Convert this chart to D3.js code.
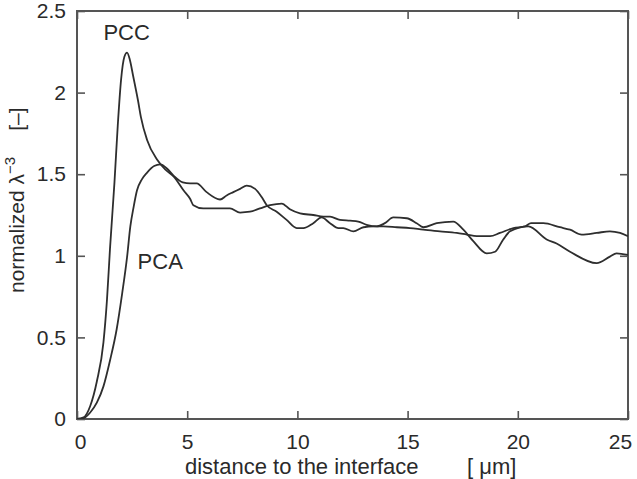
<!DOCTYPE html>
<html><head><meta charset="utf-8">
<script src="https://cdn.jsdelivr.net/npm/d3@7"></script>
<style>
html,body{margin:0;padding:0;background:#fff;}
text{font-family:"Liberation Sans",Arial,Helvetica,sans-serif;fill:#2a2a2a;}
</style></head>
<body><svg id="chart" width="637" height="479"></svg>
<script>
const xTicks = [0, 5, 10, 15, 20, 25];
const yTicks = [0, 0.5, 1, 1.5, 2, 2.5];
const yTickLabels = ["0", "0.5", "1", "1.5", "2", "2.5"];
const xLabel = "distance to the interface";
const xUnit = "[ μm]";

const pccX = [0,0.3,0.6,0.9,1.2,1.36,1.5,1.7,1.85,2.0,2.15,2.27,2.4,2.55,2.77,2.9,3.18,3.63,4.0,4.39,4.84,5.13,5.28,5.73,6.34,6.94,7.4,7.85,8.3,8.76,9.29,9.66,10.12,10.72,11.18,11.48,11.93,12.39,12.76,13.14,13.6,13.97,14.35,14.96,15.41,15.71,16.32,17.07,17.53,17.98,18.59,18.97,19.34,19.65,20.48,21.31,21.76,22.37,23.58,24.18,24.48,25];
const pccY = [0,0.01,0.08,0.23,0.47,0.73,1.05,1.45,1.8,2.08,2.22,2.245,2.2,2.1,1.95,1.85,1.71,1.59,1.53,1.485,1.40,1.35,1.31,1.29,1.29,1.29,1.265,1.27,1.29,1.31,1.32,1.285,1.26,1.25,1.24,1.24,1.22,1.215,1.21,1.19,1.18,1.2,1.235,1.23,1.2,1.175,1.2,1.21,1.16,1.09,1.015,1.025,1.10,1.15,1.18,1.10,1.075,1.025,0.955,0.995,1.015,1.005];

const pcaX = [0,0.3,0.6,0.9,1.2,1.5,1.8,2.05,2.27,2.42,2.57,2.72,2.95,3.18,3.5,3.78,4.08,4.39,4.8,5.13,5.43,5.88,6.49,6.79,7.09,7.4,7.7,8.08,8.38,8.61,9.06,9.51,9.97,10.27,10.72,11.1,11.48,11.86,12.08,12.54,13.0,13.45,13.9,14.51,15.11,15.71,16.47,17.23,17.68,18.14,18.74,19.19,19.8,20.33,20.6,21.16,21.91,22.37,22.9,23.58,24.18,24.64,25];
const pcaY = [0,0.005,0.04,0.1,0.2,0.36,0.55,0.77,0.99,1.18,1.3,1.40,1.47,1.51,1.55,1.56,1.535,1.49,1.45,1.444,1.444,1.39,1.345,1.37,1.39,1.41,1.43,1.41,1.36,1.31,1.27,1.22,1.17,1.17,1.2,1.235,1.2,1.17,1.17,1.15,1.175,1.18,1.18,1.175,1.17,1.16,1.15,1.14,1.13,1.12,1.12,1.14,1.17,1.18,1.20,1.20,1.175,1.16,1.13,1.14,1.15,1.14,1.12];

const seriesNames = ["PCC", "PCA"];
const seriesLabelPos = [[1.2, 2.32], [2.75, 0.92]];

const svg = d3.select("#chart");
const L = 77, R = 628, T = 11, B = 419;
const x = d3.scaleLinear().domain([0, 25]).range([L, R]);
const y = d3.scaleLinear().domain([0, 2.5]).range([B, T]);

const tickLen = 8;
const frameColor = "#555";

svg.append("clipPath").attr("id","clip").append("rect")
  .attr("x", L).attr("y", T).attr("width", R-L).attr("height", B-T);

const gx = svg.append("g").attr("transform", `translate(0,${B})`)
  .call(d3.axisBottom(x).tickValues(xTicks).tickSizeInner(-tickLen).tickSizeOuter(0).tickPadding(15).tickFormat(d3.format("d")));
const gxTop = svg.append("g").attr("transform", `translate(0,${T})`)
  .call(d3.axisTop(x).tickValues(xTicks).tickSizeInner(-tickLen).tickSizeOuter(0).tickFormat(""));
const gy = svg.append("g").attr("transform", `translate(${L},0)`)
  .call(d3.axisLeft(y).tickValues(yTicks).tickSizeInner(-tickLen).tickSizeOuter(0).tickPadding(11).tickFormat((d,i)=>yTickLabels[i]));
const gyR = svg.append("g").attr("transform", `translate(${R},0)`)
  .call(d3.axisRight(y).tickValues(yTicks).tickSizeInner(-tickLen).tickSizeOuter(0).tickFormat(""));

[gx,gxTop,gy,gyR].forEach(g=>{
  g.select(".domain").remove();
  g.selectAll(".tick line").attr("stroke", frameColor).attr("stroke-width", 1.6);
  g.selectAll(".tick text").attr("font-size", 21).attr("fill", "#2a2a2a")
    .attr("font-family", '"Liberation Sans",Arial,sans-serif');
});
gx.selectAll(".tick text").attr("dy", "0.71em")
  .attr("dx", d => d === 25 ? -8 : (d === 0 ? 3 : 0));

svg.append("rect").attr("x", L).attr("y", T).attr("width", R-L).attr("height", B-T)
  .attr("fill","none").attr("stroke", frameColor).attr("stroke-width", 2);

const line = d3.line().x(d=>x(d[0])).y(d=>y(d[1])).curve(d3.curveMonotoneX);
const data = [d3.zip(pccX, pccY), d3.zip(pcaX, pcaY)];
svg.append("g").attr("clip-path","url(#clip)").selectAll("path").data(data).join("path")
  .attr("d", line).attr("fill","none").attr("stroke","#2e2e2e").attr("stroke-width",1.8)
  .attr("stroke-linejoin","round");

svg.selectAll("text.series").data(seriesNames).join("text").attr("class","series")
  .attr("x",(d,i)=>x(seriesLabelPos[i][0])).attr("y",(d,i)=>y(seriesLabelPos[i][1]))
  .attr("font-size", 22).text(d=>d);

svg.append("text").attr("x", 185).attr("y", 474).attr("font-size", 22).text(xLabel);
svg.append("text").attr("x", 467).attr("y", 474).attr("font-size", 22).text(xUnit);

const yl = svg.append("text").attr("transform", "translate(24,293) rotate(-90)").attr("font-size", 21);
yl.append("tspan").text("normalized λ");
yl.append("tspan").attr("dy", -9).attr("font-size", 15).text("−3");
yl.append("tspan").attr("dy", 9).attr("dx", 26).text("[–]");
</script></body></html>
